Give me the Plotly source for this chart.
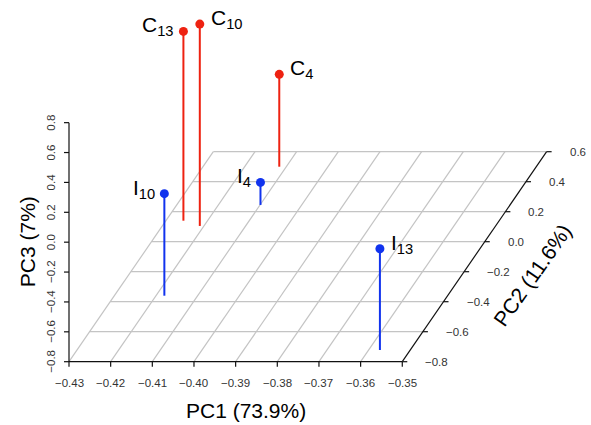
import plotly.graph_objects as go

# ---- data ----
labels = ["C<sub>13</sub>", "C<sub>10</sub>", "C<sub>4</sub>", "I<sub>10</sub>", "I<sub>4</sub>", "I<sub>13</sub>"]
groups = ["C", "C", "C", "I", "I", "I"]
pc1 = [-0.4258, -0.4210, -0.4117, -0.4180, -0.4099, -0.3573]
pc2 = [0.140, 0.105, 0.500, -0.360, 0.245, -0.722]
pc3 = [0.467, 0.551, -0.182, -0.117, -0.649, -0.122]
label_side = ["left", "right", "right", "left", "left", "right"]

x_ticks = [-0.43, -0.42, -0.41, -0.40, -0.39, -0.38, -0.37, -0.36, -0.35]
y_ticks = [-0.8, -0.6, -0.4, -0.2, 0.0, 0.2, 0.4, 0.6]
z_ticks = [-0.8, -0.6, -0.4, -0.2, 0.0, 0.2, 0.4, 0.6, 0.8]

colors = {"C": "#ee2211", "I": "#1133ee"}

# ---- scatterplot3d-like oblique projection ----
W, H = 591, 425
PX_X = 4166.0   # px per PC1 unit
PX_Z = 149.4    # px per PC3 unit
Y_DX = 103.1    # px shift in x per PC2 unit
Y_DY = 150.0    # px shift in y per PC2 unit
xmin, xmax = x_ticks[0], x_ticks[-1]
ymin, ymax = y_ticks[0], y_ticks[-1]
zmin, zmax = z_ticks[0], z_ticks[-1]
SX = Y_DX / PX_X
SY = Y_DY / PX_Z


def proj(x, y, z):
    return x + (y - ymin) * SX, z + (y - ymin) * SY


def du(px):
    return px / PX_X


def dv(px):
    return px / PX_Z


# figure range so that origin corner sits at (69, 361.7) px
u0 = xmin - du(69)
u1 = xmin + du(W - 69)
v1 = zmin + dv(361.7)
v0 = zmin - dv(H - 361.7)

fig = go.Figure()


def add_segments(segs, color, width):
    xs, ys = [], []
    for (a, b) in segs:
        xs += [a[0], b[0], None]
        ys += [a[1], b[1], None]
    fig.add_trace(go.Scatter(x=xs, y=ys, mode="lines", line=dict(color=color, width=width),
                             hoverinfo="skip", showlegend=False))


# floor grid
grid = []
for yt in y_ticks[1:]:
    grid.append((proj(xmin, yt, zmin), proj(xmax, yt, zmin)))
for xt in x_ticks[:-1]:
    grid.append((proj(xt, ymin, zmin), proj(xt, ymax, zmin)))
add_segments(grid, "#c4c4c4", 1.2)

# axes
axes = []
axes.append((proj(xmin, ymin, zmin), proj(xmax, ymin, zmin)))  # PC1
axes.append((proj(xmin, ymin, zmin), proj(xmin, ymin, zmax)))  # PC3
axes.append((proj(xmax, ymin, zmin), proj(xmax, ymax, zmin)))  # PC2
for xt in x_ticks:
    u, v = proj(xt, ymin, zmin)
    axes.append(((u, v), (u, v - dv(5))))
for zt in z_ticks:
    u, v = proj(xmin, ymin, zt)
    axes.append(((u - du(5), v), (u, v)))
for yt in y_ticks:
    u, v = proj(xmax, yt, zmin)
    axes.append(((u, v), (u + du(5), v)))
add_segments(axes, "#111111", 1.2)

# stems and points
for i in range(len(labels)):
    c = colors[groups[i]]
    top = proj(pc1[i], pc2[i], pc3[i])
    bot = proj(pc1[i], pc2[i], zmin)
    fig.add_trace(go.Scatter(x=[bot[0], top[0]], y=[bot[1], top[1]], mode="lines",
                             line=dict(color=c, width=2), hoverinfo="skip", showlegend=False))
for g in ["C", "I"]:
    idx = [i for i in range(len(labels)) if groups[i] == g]
    pts = [proj(pc1[i], pc2[i], pc3[i]) for i in idx]
    fig.add_trace(go.Scatter(x=[p[0] for p in pts], y=[p[1] for p in pts], mode="markers",
                             marker=dict(color=colors[g], size=9, line=dict(width=0)),
                             hoverinfo="skip", showlegend=False))

FONT = "Liberation Sans, Arial, Helvetica, sans-serif"
ann = []
for i in range(len(labels)):
    u, v = proj(pc1[i], pc2[i], pc3[i])
    left = label_side[i] == "left"
    ann.append(dict(x=u, y=v, text=labels[i], showarrow=False,
                    xanchor="right" if left else "left", yanchor="middle",
                    xshift=-7 if left else 9, yshift=5,
                    font=dict(family=FONT, size=21, color="black")))

TICKFONT = dict(family=FONT, size=11.5, color="#333333")


def fmt(v, d):
    s = f"{v:.{d}f}"
    return s.replace("-", "\u2212")


for xt in x_ticks:
    u, v = proj(xt, ymin, zmin)
    ann.append(dict(x=u, y=v - dv(21), text=fmt(xt, 2), showarrow=False,
                    xanchor="center", yanchor="middle", font=TICKFONT))
for zt in z_ticks:
    u, v = proj(xmin, ymin, zt)
    ann.append(dict(x=u - du(18), y=v, text=fmt(zt, 1), showarrow=False, textangle=-90,
                    xanchor="center", yanchor="middle", font=TICKFONT))
for yt in y_ticks:
    u, v = proj(xmax, yt, zmin)
    ann.append(dict(x=u + du(21), y=v, text=fmt(yt, 1), showarrow=False,
                    xanchor="left", yanchor="middle", font=TICKFONT))

TITLEFONT = dict(family=FONT, size=21, color="black")
# axis titles
ann.append(dict(x=(xmin + xmax) / 2 + du(10), y=zmin - dv(49), text="PC1 (73.9%)", showarrow=False,
                xanchor="center", yanchor="middle", font=TITLEFONT))
ann.append(dict(x=xmin - du(42), y=(zmin + zmax) / 2, text="PC3 (7%)", showarrow=False,
                textangle=-90, xanchor="center", yanchor="middle", font=TITLEFONT))
pu, pv = proj(xmax, (ymin + ymax) / 2, zmin)
ann.append(dict(x=pu + du(58.5), y=pv - dv(18), text="PC2 (11.6%)", showarrow=False,
                textangle=-55, xanchor="center", yanchor="middle", font=TITLEFONT))

fig.update_layout(
    width=W, height=H,
    margin=dict(l=0, r=0, t=0, b=0),
    paper_bgcolor="white", plot_bgcolor="white",
    xaxis=dict(range=[u0, u1], visible=False, fixedrange=True),
    yaxis=dict(range=[v0, v1], visible=False, fixedrange=True),
    annotations=ann,
    showlegend=False,
)

fig.write_html("out.html", config={"displayModeBar": False},
               post_script="document.body.style.margin='0px';document.body.style.padding='0px';"
                           "document.documentElement.style.overflow='hidden';")
